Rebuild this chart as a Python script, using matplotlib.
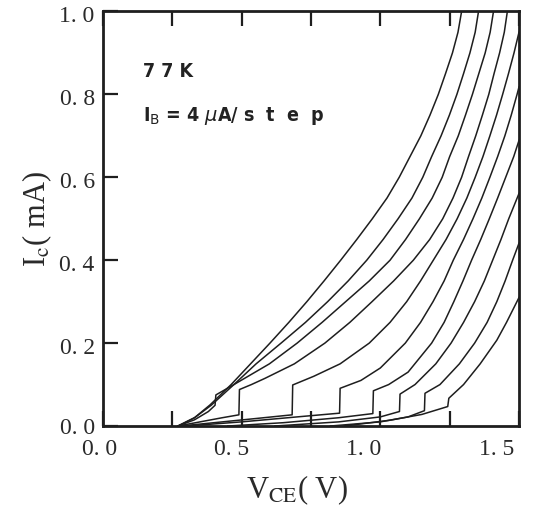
import matplotlib
matplotlib.use("Agg")
import matplotlib.pyplot as plt
from matplotlib.transforms import ScaledTranslation

# IC-VCE curves, VCE (V) / IC (mA), ten base-current steps
vce_1 = [0.27, 0.33, 0.386, 0.462, 0.532, 0.602, 0.670, 0.735, 0.797, 0.857, 0.915, 0.971,
         1.024, 1.068, 1.107, 1.146, 1.179, 1.209, 1.235, 1.260, 1.280, 1.293]
ic_1 = [0.0, 0.02, 0.051, 0.10, 0.15, 0.20, 0.25, 0.30, 0.35, 0.40, 0.45, 0.50,
        0.55, 0.60, 0.65, 0.70, 0.75, 0.80, 0.85, 0.90, 0.95, 1.0]

vce_2 = [0.27, 0.33, 0.39, 0.472, 0.552, 0.642, 0.730, 0.810, 0.884, 0.951, 1.010, 1.064,
         1.114, 1.153, 1.185, 1.219, 1.249, 1.276, 1.300, 1.323, 1.342, 1.354]
ic_2 = [0.0, 0.02, 0.05, 0.10, 0.15, 0.20, 0.25, 0.30, 0.35, 0.40, 0.45, 0.50,
        0.55, 0.60, 0.65, 0.70, 0.75, 0.80, 0.85, 0.90, 0.95, 1.0]

vce_3 = [0.27, 0.33, 0.38, 0.404, 0.407, 0.472, 0.600, 0.700, 0.790, 0.875, 0.960, 1.035, 1.091,
         1.141, 1.187, 1.223, 1.250, 1.281, 1.307, 1.332, 1.355, 1.378, 1.396, 1.408]
ic_3 = [0.0, 0.015, 0.035, 0.05, 0.075, 0.10, 0.15, 0.20, 0.25, 0.30, 0.35, 0.40, 0.45,
        0.50, 0.55, 0.60, 0.65, 0.70, 0.75, 0.80, 0.85, 0.90, 0.95, 1.0]

vce_4 = [0.27, 0.35, 0.43, 0.49, 0.492, 0.535, 0.584, 0.690, 0.800, 0.890, 0.970, 1.048, 1.119,
         1.178, 1.225, 1.262, 1.293, 1.318, 1.344, 1.368, 1.391, 1.410, 1.430, 1.447, 1.458]
ic_4 = [0.0, 0.01, 0.02, 0.027, 0.088, 0.10, 0.115, 0.15, 0.20, 0.25, 0.30, 0.35, 0.40,
        0.45, 0.50, 0.55, 0.60, 0.65, 0.70, 0.75, 0.80, 0.85, 0.90, 0.95, 1.0]

vce_5 = [0.28, 0.40, 0.55, 0.682, 0.684, 0.760, 0.855, 0.960, 1.035, 1.095, 1.145, 1.191,
         1.237, 1.277, 1.312, 1.342, 1.370, 1.395, 1.419, 1.441, 1.462, 1.482, 1.5]
ic_5 = [0.0, 0.008, 0.018, 0.027, 0.099, 0.12, 0.15, 0.20, 0.25, 0.30, 0.35, 0.40,
        0.45, 0.50, 0.55, 0.60, 0.65, 0.70, 0.75, 0.80, 0.85, 0.90, 0.95]

vce_6 = [0.30, 0.50, 0.70, 0.853, 0.855, 0.930, 1.000, 1.090, 1.145, 1.190, 1.230, 1.263,
         1.300, 1.334, 1.366, 1.395, 1.423, 1.449, 1.472, 1.493, 1.5]
ic_6 = [0.0, 0.01, 0.022, 0.031, 0.091, 0.11, 0.14, 0.20, 0.25, 0.30, 0.35, 0.40,
        0.45, 0.50, 0.55, 0.60, 0.65, 0.70, 0.75, 0.80, 0.818]

vce_7 = [0.45, 0.65, 0.85, 0.973, 0.975, 1.030, 1.100, 1.185, 1.230, 1.265, 1.298, 1.329,
         1.362, 1.393, 1.423, 1.452, 1.481, 1.5]
ic_7 = [0.0, 0.008, 0.02, 0.03, 0.085, 0.10, 0.13, 0.20, 0.25, 0.30, 0.35, 0.40,
        0.45, 0.50, 0.55, 0.60, 0.65, 0.689]

vce_8 = [0.62, 0.85, 1.00, 1.069, 1.071, 1.125, 1.200, 1.255, 1.300, 1.340, 1.375, 1.405,
         1.435, 1.463, 1.5]
ic_8 = [0.0, 0.01, 0.022, 0.035, 0.077, 0.10, 0.15, 0.20, 0.25, 0.30, 0.35, 0.40,
        0.45, 0.50, 0.561]

vce_9 = [0.82, 1.00, 1.10, 1.159, 1.161, 1.215, 1.285, 1.340, 1.385, 1.420, 1.450, 1.477, 1.5]
ic_9 = [0.0, 0.01, 0.022, 0.037, 0.079, 0.10, 0.15, 0.20, 0.25, 0.30, 0.35, 0.40, 0.441]

vce_10 = [0.87, 1.035, 1.15, 1.243, 1.247, 1.300, 1.360, 1.420, 1.455, 1.5]
ic_10 = [0.0, 0.014, 0.028, 0.047, 0.067, 0.10, 0.15, 0.207, 0.25, 0.31]

curves = [(vce_1, ic_1), (vce_2, ic_2), (vce_3, ic_3), (vce_4, ic_4), (vce_5, ic_5),
          (vce_6, ic_6), (vce_7, ic_7), (vce_8, ic_8), (vce_9, ic_9), (vce_10, ic_10)]

x_ticks = [0.0, 0.25, 0.5, 0.75, 1.0, 1.25, 1.5]
x_labels = ['0. 0', '', '0. 5', '', '1. 0', '', '1. 5']
y_ticks = [0.0, 0.2, 0.4, 0.6, 0.8, 1.0]
y_labels = ['0. 0', '0. 2', '0. 4', '0. 6', '0. 8', '1. 0']

plt.rcParams['font.family'] = ['Liberation Serif', 'DejaVu Serif']
plt.rcParams['mathtext.fontset'] = 'stix'

fig = plt.figure(figsize=(5.43, 5.11), dpi=100)
ax = fig.add_axes([0.1897, 0.1663, 0.7661, 0.8112])

for v, i in curves:
    ax.plot(v, i, color='#1e1e1e', lw=1.1, solid_joinstyle='round')

ax.set_xlim(0, 1.5)
ax.set_ylim(0, 1.0)

ax.set_xticks(x_ticks)
ax.set_xticklabels(x_labels)
ax.set_yticks(y_ticks)
ax.set_yticklabels(y_labels)
ax.tick_params(axis='x', direction='in', top=True, bottom=True, length=11, width=1.6,
               labelsize=17, pad=9, color='#1e1e1e', labelcolor='#2a2a2a')
ax.tick_params(axis='y', direction='in', left=True, right=False, length=11, width=1.6,
               labelsize=17, pad=6, color='#1e1e1e', labelcolor='#2a2a2a')
for s in ax.spines.values():
    s.set_linewidth(2.0)
    s.set_color('#1e1e1e')

# the scan's x labels drift left of their ticks, y labels sit a bit low
x_shift = [-3.5, 0, -10.5, 0, -17, 0, -22]
for lab, dx in zip(ax.get_xticklabels(), x_shift):
    lab.set_transform(lab.get_transform() + ScaledTranslation(dx / 100, 0, fig.dpi_scale_trans))
y_shift = [0, -3, -3, -3, -3, -3]
for lab, dy in zip(ax.get_yticklabels(), y_shift):
    lab.set_transform(lab.get_transform() + ScaledTranslation(0, dy / 100, fig.dpi_scale_trans))

ax.set_xlabel(r'V$_{\rm CE}$( V)', fontsize=22, color='#2a2a2a')
ax.xaxis.set_label_coords(0.466, -0.115)
ax.set_ylabel(r'I$_{\rm c}$( mA)', fontsize=22, color='#2a2a2a', labelpad=4)

ax.text(0.144, 0.856, '7 7 K', fontsize=14, fontweight='bold', family='DejaVu Sans',
        fontstretch='condensed', va='center', ha='left', color='#222222')
ax.text(0.144, 0.748, r'I$_{\rm B}$ = 4 $\mu$A/ s  t  e  p', fontsize=14, fontweight='bold',
        family='DejaVu Sans', fontstretch='condensed', math_fontfamily='dejavusans',
        va='center', ha='left', color='#222222')

fig.savefig('out.png', dpi=100, facecolor='white')
